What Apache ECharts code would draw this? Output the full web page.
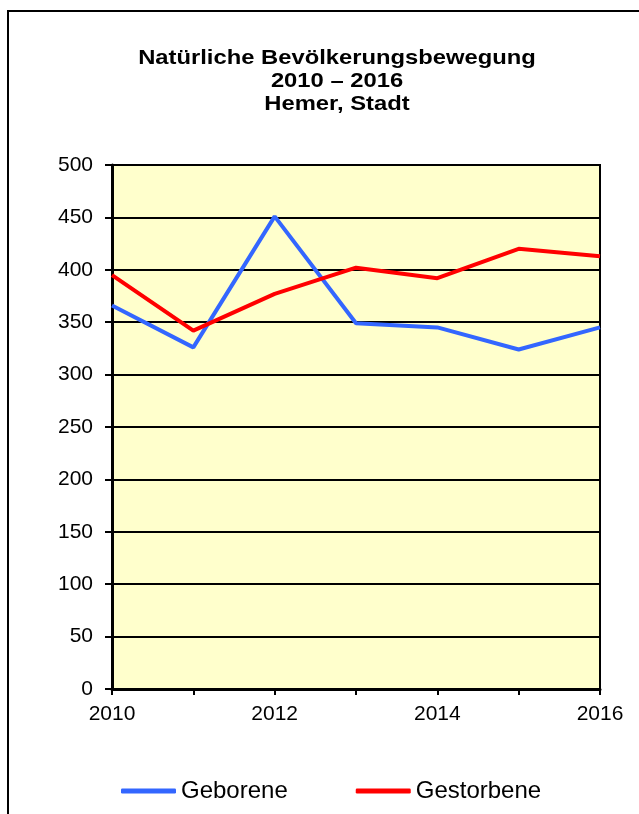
<!DOCTYPE html>
<html>
<head>
<meta charset="utf-8">
<script src="https://cdn.jsdelivr.net/npm/echarts@6/dist/echarts.min.js"></script>
<style>
html,body{margin:0;padding:0;background:#fff;}
#c{width:639px;height:814px;}
</style>
</head>
<body>
<div id="c"></div>
<script>
const years = ['2010','2011','2012','2013','2014','2015','2016'];
const geborene = [366, 326, 451, 349, 345, 324, 345];
const gestorbene = [395, 342, 377, 402, 392, 420, 413];
const titleText = 'Natürliche Bevölkerungsbewegung\n2010 – 2016\nHemer, Stadt';

const chart = echarts.init(document.getElementById('c'), null, {renderer:'canvas'});
const font = 'Arial, "Liberation Sans", sans-serif';
chart.setOption({
  animation: false,
  backgroundColor: '#fff',
  graphic: [{
    type: 'rect', silent: true, z: 100,
    shape: {x: 8, y: 11, width: 700, height: 900},
    style: {fill: 'none', stroke: '#000', lineWidth: 2}
  }, {
    type: 'text', silent: true, z: 100,
    x: 337, y: 47, scaleX: 1.16, scaleY: 1,
    style: {
      text: titleText, align: 'center', verticalAlign: 'top',
      fontFamily: font, fontSize: 20.5, fontWeight: 'bold', fill: '#000', lineHeight: 23
    }
  }],
  legend: {
    left: 116, top: 774,
    itemWidth: 55, itemHeight: 5, itemGap: 68,
    icon: 'roundRect',
    textStyle: {fontFamily: font, fontSize: 24, color: '#000'},
    data: ['Geborene', 'Gestorbene']
  },
  grid: {
    left: 112, right: 39, top: 165, bottom: 125,
    show: true, backgroundColor: '#FFFFCC', borderColor: '#000', borderWidth: 2
  },
  xAxis: {
    type: 'category', data: years, boundaryGap: false,
    axisLine: {lineStyle: {color: '#000', width: 3}},
    axisTick: {show: true, interval: 0, length: 6, lineStyle: {color: '#000', width: 2}},
    axisLabel: {interval: 1, margin: 15, fontFamily: font, fontSize: 21, color: '#000'},
    splitLine: {show: false}
  },
  yAxis: {
    type: 'value', min: 0, max: 500, interval: 50,
    axisLine: {show: true, lineStyle: {color: '#000', width: 3}},
    axisTick: {show: true, length: 7, lineStyle: {color: '#000', width: 2}},
    axisLabel: {margin: 19, fontFamily: font, fontSize: 21, color: '#000'},
    splitLine: {show: true, lineStyle: {color: '#000', width: 2}}
  },
  series: [
    {name: 'Geborene', type: 'line', data: geborene, symbol: 'none',
     lineStyle: {color: '#3366FF', width: 4}, itemStyle: {color: '#3366FF'}},
    {name: 'Gestorbene', type: 'line', data: gestorbene, symbol: 'none',
     lineStyle: {color: '#FF0000', width: 4}, itemStyle: {color: '#FF0000'}}
  ]
});
</script>
</body>
</html>
